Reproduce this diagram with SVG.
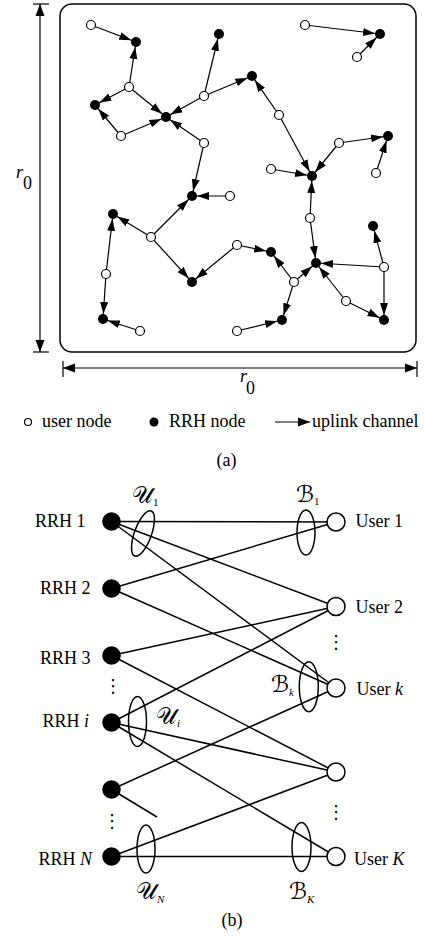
<svg xmlns="http://www.w3.org/2000/svg" width="424" height="937" viewBox="0 0 424 937">
  <style>
    .bg { fill: #ffffff; }
    .frame { fill: none; stroke: #000; stroke-width: 1.5; }
    .dim { fill: none; stroke: #000; stroke-width: 1.2; }
    .link { fill: none; stroke: #000; stroke-width: 1.2; marker-end: url(#ah); }
    .user { fill: #fff; stroke: #000; stroke-width: 1.2; }
    .rrh { fill: #000; stroke: none; }
    .edge { fill: none; stroke: #000; stroke-width: 1.5; }
    .ring { fill: none; stroke: #000; stroke-width: 1.5; }
    .bu { fill: #fff; stroke: #000; stroke-width: 1.5; }
    .br { fill: #000; }
    .t { font-family: "Liberation Serif", "Times New Roman", serif; font-size: 18px; fill: #000; }
    .it { font-style: italic; }
    .scr { font-family: "DejaVu Serif", "DejaVu Sans", serif; font-size: 23px; font-weight: normal; fill: #000; }
    .sub { font-family: "Liberation Serif", serif; font-size: 11px; }
    .dots { font-family: "DejaVu Serif", "DejaVu Sans", serif; font-size: 18px; fill: #000; text-anchor: middle; }
  </style>
  <defs>
    <!-- arrowhead for channels: tip stops 5px short of the path end (RRH radius) -->
    <marker id="ah" markerUnits="userSpaceOnUse" markerWidth="20" markerHeight="12" viewBox="0 -6 20 12" refX="17" refY="0" orient="auto">
      <path d="M0,-4 L12,0 L0,4 z" fill="#000"/>
    </marker>
    <!-- arrowhead whose tip sits on the path end -->
    <marker id="tip" markerUnits="userSpaceOnUse" markerWidth="14" markerHeight="12" viewBox="0 -6 14 12" refX="12" refY="0" orient="auto-start-reverse">
      <path d="M0,-4.5 L12,0 L0,4.5 z" fill="#000"/>
    </marker>
  </defs>
  <rect class="bg" x="0" y="0" width="424" height="937"/>

  <!-- (a) network area -->
  <g id="area">
    <rect class="frame" x="60" y="4" width="356" height="348" rx="12" ry="12"/>
  </g>
  <g id="dimensions">
    <line class="dim" x1="33" y1="4" x2="49" y2="4"/>
    <line class="dim" x1="33" y1="352" x2="49" y2="352"/>
    <line class="dim" x1="40" y1="4" x2="40" y2="352" marker-start="url(#tip)" marker-end="url(#tip)"/>
    <line class="dim" x1="63" y1="361" x2="63" y2="377"/>
    <line class="dim" x1="417" y1="361" x2="417" y2="377"/>
    <line class="dim" x1="63" y1="368" x2="417" y2="368" marker-start="url(#tip)" marker-end="url(#tip)"/>
    <text class="t it" x="16" y="178">r<tspan font-style="normal" x="23" y="189">0</tspan></text>
    <text class="t it" x="240" y="382">r<tspan font-style="normal" x="246" y="394">0</tspan></text>
  </g>

  <!-- uplink channels: user -> RRH -->
  <g id="channels">
    <line class="link" x1="91" y1="25" x2="136" y2="42"/>
    <line class="link" x1="129" y1="87" x2="136" y2="42"/>
    <line class="link" x1="129" y1="87" x2="95" y2="105"/>
    <line class="link" x1="129" y1="87" x2="166" y2="117"/>
    <line class="link" x1="121" y1="136" x2="95" y2="105"/>
    <line class="link" x1="121" y1="136" x2="166" y2="117"/>
    <line class="link" x1="204" y1="96" x2="166" y2="117"/>
    <line class="link" x1="204" y1="96" x2="219" y2="34"/>
    <line class="link" x1="204" y1="96" x2="252" y2="76"/>
    <line class="link" x1="204" y1="143" x2="166" y2="117"/>
    <line class="link" x1="204" y1="143" x2="192" y2="196"/>
    <line class="link" x1="305" y1="25" x2="380" y2="34"/>
    <line class="link" x1="357" y1="57" x2="380" y2="34"/>
    <line class="link" x1="279" y1="115" x2="252" y2="76"/>
    <line class="link" x1="279" y1="115" x2="312" y2="176"/>
    <line class="link" x1="271" y1="169" x2="312" y2="176"/>
    <line class="link" x1="339" y1="143" x2="312" y2="176"/>
    <line class="link" x1="339" y1="143" x2="388" y2="136"/>
    <line class="link" x1="376" y1="173" x2="388" y2="136"/>
    <line class="link" x1="230" y1="196" x2="192" y2="196"/>
    <line class="link" x1="310" y1="218" x2="312" y2="176"/>
    <line class="link" x1="310" y1="218" x2="316" y2="263"/>
    <line class="link" x1="151" y1="237" x2="113" y2="214"/>
    <line class="link" x1="151" y1="237" x2="192" y2="196"/>
    <line class="link" x1="151" y1="237" x2="192" y2="282"/>
    <line class="link" x1="106" y1="274" x2="113" y2="214"/>
    <line class="link" x1="106" y1="274" x2="103" y2="319"/>
    <line class="link" x1="140" y1="331" x2="103" y2="319"/>
    <line class="link" x1="237" y1="245" x2="271" y2="252"/>
    <line class="link" x1="237" y1="245" x2="192" y2="282"/>
    <line class="link" x1="294" y1="282" x2="271" y2="252"/>
    <line class="link" x1="294" y1="282" x2="316" y2="263"/>
    <line class="link" x1="294" y1="282" x2="282" y2="320"/>
    <line class="link" x1="237" y1="331" x2="282" y2="320"/>
    <line class="link" x1="384" y1="267" x2="316" y2="263"/>
    <line class="link" x1="384" y1="267" x2="373" y2="226"/>
    <line class="link" x1="384" y1="267" x2="384" y2="320"/>
    <line class="link" x1="346" y1="301" x2="316" y2="263"/>
    <line class="link" x1="346" y1="301" x2="384" y2="320"/>
  </g>

  <!-- user nodes -->
  <g id="users">
    <circle id="u1" class="user" cx="91" cy="25" r="4.5"/>
    <circle id="u2" class="user" cx="129" cy="87" r="4.5"/>
    <circle id="u3" class="user" cx="121" cy="136" r="4.5"/>
    <circle id="u4" class="user" cx="204" cy="96" r="4.5"/>
    <circle id="u5" class="user" cx="204" cy="143" r="4.5"/>
    <circle id="u6" class="user" cx="305" cy="25" r="4.5"/>
    <circle id="u7" class="user" cx="357" cy="57" r="4.5"/>
    <circle id="u8" class="user" cx="279" cy="115" r="4.5"/>
    <circle id="u9" class="user" cx="271" cy="169" r="4.5"/>
    <circle id="u10" class="user" cx="339" cy="143" r="4.5"/>
    <circle id="u11" class="user" cx="376" cy="173" r="4.5"/>
    <circle id="u12" class="user" cx="230" cy="196" r="4.5"/>
    <circle id="u13" class="user" cx="310" cy="218" r="4.5"/>
    <circle id="u14" class="user" cx="151" cy="237" r="4.5"/>
    <circle id="u15" class="user" cx="106" cy="274" r="4.5"/>
    <circle id="u16" class="user" cx="140" cy="331" r="4.5"/>
    <circle id="u17" class="user" cx="237" cy="245" r="4.5"/>
    <circle id="u18" class="user" cx="294" cy="282" r="4.5"/>
    <circle id="u19" class="user" cx="237" cy="331" r="4.5"/>
    <circle id="u20" class="user" cx="384" cy="267" r="4.5"/>
    <circle id="u21" class="user" cx="346" cy="301" r="4.5"/>
  </g>

  <!-- RRH nodes -->
  <g id="rrhs">
    <circle id="r1" class="rrh" cx="136" cy="42" r="5"/>
    <circle id="r2" class="rrh" cx="95" cy="105" r="5"/>
    <circle id="r3" class="rrh" cx="166" cy="117" r="5"/>
    <circle id="r4" class="rrh" cx="219" cy="34" r="5"/>
    <circle id="r5" class="rrh" cx="380" cy="34" r="5"/>
    <circle id="r6" class="rrh" cx="252" cy="76" r="5"/>
    <circle id="r7" class="rrh" cx="312" cy="176" r="5"/>
    <circle id="r8" class="rrh" cx="388" cy="136" r="5"/>
    <circle id="r9" class="rrh" cx="192" cy="196" r="5"/>
    <circle id="r10" class="rrh" cx="113" cy="214" r="5"/>
    <circle id="r11" class="rrh" cx="192" cy="282" r="5"/>
    <circle id="r12" class="rrh" cx="103" cy="319" r="5"/>
    <circle id="r13" class="rrh" cx="271" cy="252" r="5"/>
    <circle id="r14" class="rrh" cx="316" cy="263" r="5"/>
    <circle id="r15" class="rrh" cx="282" cy="320" r="5"/>
    <circle id="r16" class="rrh" cx="373" cy="226" r="5"/>
    <circle id="r17" class="rrh" cx="384" cy="320" r="5"/>
  </g>

  <!-- legend -->
  <g id="legend">
    <circle class="user" cx="28" cy="422" r="3.5"/>
    <text class="t" x="42" y="427">user node</text>
    <circle class="rrh" cx="154" cy="422" r="4.5"/>
    <text class="t" x="169" y="427">RRH node</text>
    <line class="dim" x1="275" y1="422" x2="310" y2="422" marker-end="url(#tip)"/>
    <text class="t" x="312" y="427">uplink channel</text>
    <text class="t" x="226.5" y="466" text-anchor="middle">(a)</text>
  </g>

  <!-- (b) bipartite association graph -->
  <g id="associations">
    <line class="edge" x1="111.5" y1="521.5" x2="336" y2="522"/>
    <line class="edge" x1="111.5" y1="521.5" x2="336" y2="606.5"/>
    <line class="edge" x1="111.5" y1="521.5" x2="336" y2="688"/>
    <line class="edge" x1="111.5" y1="588.5" x2="336" y2="522"/>
    <line class="edge" x1="111.5" y1="588.5" x2="336" y2="688"/>
    <line class="edge" x1="111.5" y1="655.5" x2="336" y2="606.5"/>
    <line class="edge" x1="111.5" y1="655.5" x2="336" y2="772"/>
    <line class="edge" x1="111.5" y1="722.5" x2="336" y2="606.5"/>
    <line class="edge" x1="111.5" y1="722.5" x2="336" y2="772"/>
    <line class="edge" x1="111.5" y1="722.5" x2="336" y2="856.5"/>
    <line class="edge" x1="111.5" y1="789.5" x2="336" y2="688"/>
    <line class="edge" x1="111.5" y1="789.5" x2="157" y2="817"/>
    <line class="edge" x1="111.5" y1="856.5" x2="336" y2="772"/>
    <line class="edge" x1="111.5" y1="856.5" x2="336" y2="856.5"/>
  </g>

  <g id="rrh-1">
    <circle class="br" cx="111.5" cy="521.5" r="9.3"/>
    <text class="t" x="35" y="527">RRH 1</text>
  </g>
  <g id="rrh-2">
    <circle class="br" cx="111.5" cy="588.5" r="9.3"/>
    <text class="t" x="40" y="593.5">RRH 2</text>
  </g>
  <g id="rrh-3">
    <circle class="br" cx="111.5" cy="655.5" r="9.3"/>
    <text class="t" x="40" y="664">RRH 3</text>
  </g>
  <g id="rrh-i">
    <circle class="br" cx="111.5" cy="722.5" r="9.3"/>
    <text class="t" x="42.5" y="727">RRH <tspan class="it">i</tspan></text>
  </g>
  <g id="rrh-n1">
    <circle class="br" cx="111.5" cy="789.5" r="9.3"/>
  </g>
  <g id="rrh-n">
    <circle class="br" cx="111.5" cy="856.5" r="9.3"/>
    <text class="t" x="38.5" y="865">RRH <tspan class="it">N</tspan></text>
  </g>

  <g id="user-1">
    <circle class="bu" cx="336" cy="522" r="9"/>
    <text class="t" x="355.5" y="527">User 1</text>
  </g>
  <g id="user-2">
    <circle class="bu" cx="336" cy="606.5" r="9"/>
    <text class="t" x="355.5" y="613">User 2</text>
  </g>
  <g id="user-k">
    <circle class="bu" cx="336" cy="688" r="9"/>
    <text class="t" x="356.5" y="695">User <tspan class="it">k</tspan></text>
  </g>
  <g id="user-k1">
    <circle class="bu" cx="336" cy="772" r="9"/>
  </g>
  <g id="user-kk">
    <circle class="bu" cx="336" cy="856.5" r="9"/>
    <text class="t" x="354" y="865">User <tspan class="it">K</tspan></text>
  </g>

  <!-- clusters: script letter followed by its index -->
  <g id="cluster-u1">
    <ellipse class="ring" cx="143" cy="533.5" rx="8.5" ry="24" transform="rotate(20 143 533.5)"/>
    <text class="scr" x="132" y="503">𝒰<tspan class="sub" dy="3">1</tspan></text>
  </g>
  <g id="cluster-ui">
    <ellipse class="ring" cx="137.5" cy="721.5" rx="9" ry="25"/>
    <text class="scr" x="156" y="724">𝒰<tspan class="sub it" dy="3">i</tspan></text>
  </g>
  <g id="cluster-un">
    <ellipse class="ring" cx="146" cy="849" rx="9" ry="24"/>
    <text class="scr" x="136" y="899">𝒰<tspan class="sub it" dy="4">N</tspan></text>
  </g>
  <g id="cluster-b1">
    <ellipse class="ring" cx="306" cy="532.5" rx="9" ry="22.5"/>
    <text class="scr" x="296" y="502">ℬ<tspan class="sub" dy="3">1</tspan></text>
  </g>
  <g id="cluster-bk">
    <ellipse class="ring" cx="308.8" cy="686.7" rx="9.5" ry="25"/>
    <text class="scr" x="271" y="692">ℬ<tspan class="sub it" dy="4">k</tspan></text>
  </g>
  <g id="cluster-bkk">
    <ellipse class="ring" cx="301.5" cy="847" rx="9.5" ry="24.5"/>
    <text class="scr" x="289" y="899">ℬ<tspan class="sub it" dy="4">K</tspan></text>
  </g>

  <g id="ellipses">
    <text class="dots" x="113" y="692">⋮</text>
    <text class="dots" x="112" y="827">⋮</text>
    <text class="dots" x="336" y="648">⋮</text>
    <text class="dots" x="336" y="818">⋮</text>
  </g>

  <text class="t" x="232" y="926" text-anchor="middle">(b)</text>
</svg>
